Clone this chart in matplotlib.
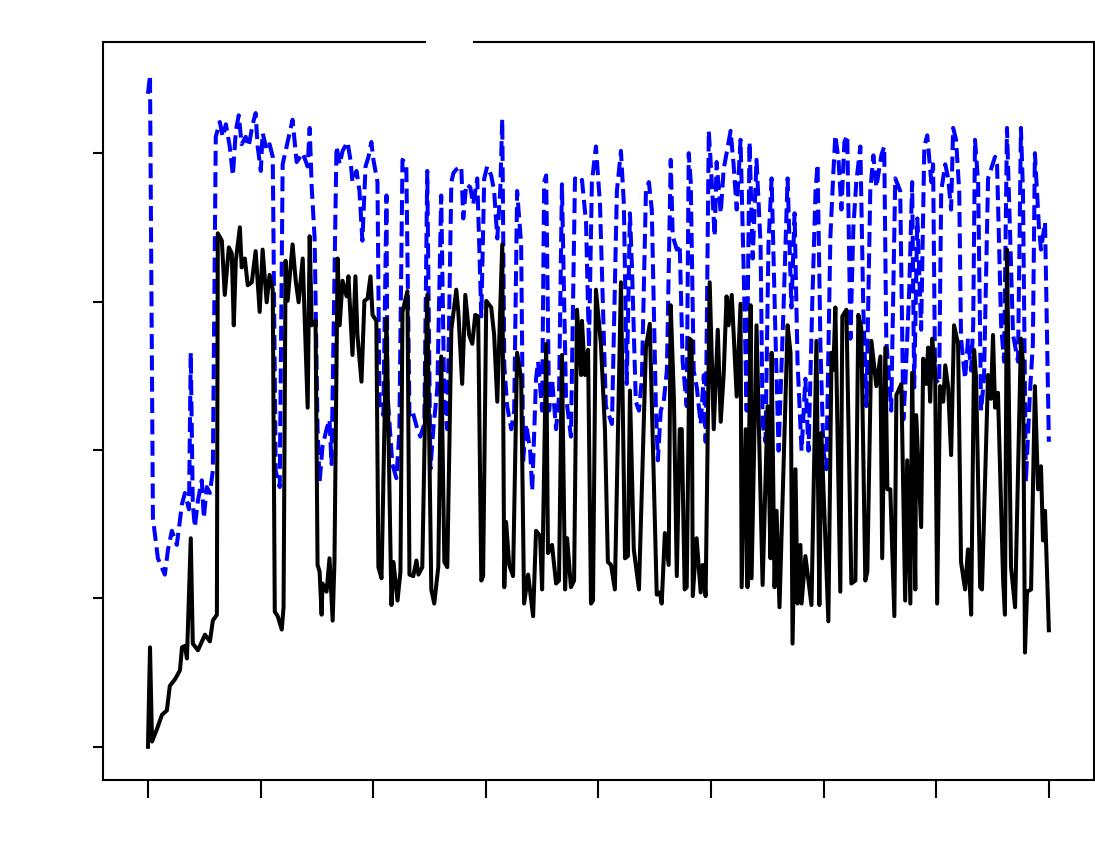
import matplotlib
matplotlib.use("Agg")
import matplotlib.pyplot as plt

# solid black series
black_x = [0, 0.9, 1.8, 4.0, 6.2, 8.4, 9.7, 12.0, 14.2, 15.1, 16.4, 17.3, 19.0, 19.9, 22.2, 25.3, 27.5, 28.8, 30.6,
           31.0, 32.8, 34.1, 35.9, 37.2, 38.1, 39.0, 40.8, 41.6, 43.0, 44.3, 46.1, 47.8, 49.6, 50.9, 52.7, 54.0, 55.4,
           56.3, 57.6, 59.4, 60.2, 61.1, 62.0, 64.2, 65.6, 66.9, 68.7, 70.9, 71.8, 72.7, 74.4, 75.3, 76.2, 77.1, 77.5,
           79.3, 80.6, 82.0, 82.8, 84.2, 85.1, 86.4, 88.2, 89.0, 90.8, 92.1, 93.0, 94.8, 96.1, 97.5, 98.8, 99.7, 101.4,
           102.3, 103.7, 105.9, 108.1, 109.0, 110.8, 112.1, 113.0, 115.2, 116.1, 117.8, 119.2, 120.1, 121.8, 124.0,
           125.8, 127.1, 128.9, 130.2, 131.6, 132.9, 134.7, 136.9, 137.8, 139.5, 140.9, 142.6, 144.0, 145.3, 146.6,
           148.0, 148.8, 150.2, 152.4, 153.7, 155.1, 157.3, 158.2, 159.0, 160.4, 162.1, 163.9, 165.7, 167.0, 168.8,
           171.0, 172.3, 174.1, 175.0, 176.8, 177.6, 179.4, 181.2, 182.5, 183.8, 185.2, 186.1, 187.8, 189.2, 190.5,
           192.3, 192.7, 194.0, 195.4, 196.7, 197.6, 198.9, 201.1, 202.9, 204.2, 205.6, 207.3, 210.0, 211.8, 213.1,
           214.0, 215.7, 218.0, 221.1, 222.8, 225.9, 227.3, 228.1, 229.5, 231.2, 232.1, 233.5, 234.8, 236.1, 237.0,
           238.3, 239.2, 240.5, 241.4, 241.9, 243.6, 245.4, 246.3, 247.6, 249.4, 251.2, 253.0, 254.3, 255.6, 256.9,
           257.8, 259.2, 261.4, 263.1, 263.6, 265.4, 266.2, 267.6, 268.0, 270.2, 272.9, 275.1, 276.4, 276.9, 278.2,
           279.1, 280.4, 284.0, 285.3, 286.2, 287.5, 288.4, 289.7, 290.2, 291.9, 294.6, 296.8, 298.1, 299.0, 302.1,
           303.5, 304.3, 305.2, 307.4, 308.3, 310.1, 312.3, 314.1, 315.4, 316.7, 318.5, 319.4, 321.2, 323.4, 325.2,
           326.0, 327.4, 328.3, 329.6, 331.4, 332.3, 334.5, 336.2, 337.1, 338.5, 339.3, 340.7, 341.1, 343.3, 344.2,
           345.5, 346.4, 347.3, 348.2, 349.5, 350.4, 351.7, 353.1, 354.0, 355.3, 356.6, 357.9, 359.7, 361.0, 362.8,
           364.1, 365.5, 366.8, 367.7, 369.5, 370.3, 373.0, 374.3, 375.2, 376.1, 377.4, 379.7, 380.5, 381.4, 383.2,
           385.0, 387.6, 388.5, 389.4, 390.3, 392.1, 393.8, 395.2, 396.5, 397.4, 398.3, 400.0]
black_y = [0, 13.4, 0.7, 2.4, 4.3, 4.9, 8.2, 9.1, 10.3, 13.4, 13.6, 11.9, 28.1, 13.9, 13.0, 15.1, 14.2, 17.0, 17.8,
           69.2, 68.2, 60.9, 67.3, 66.5, 56.8, 65.5, 70.0, 64.6, 65.8, 62.2, 62.6, 66.8, 58.6, 67.0, 59.9, 63.6, 61.6,
           18.2, 17.6, 15.8, 18.8, 65.5, 60.1, 67.7, 62.8, 59.9, 65.8, 45.7, 68.8, 56.8, 57.4, 24.5, 23.6, 17.8, 22.0,
           20.9, 25.4, 17.0, 24.9, 65.8, 56.8, 62.8, 60.7, 63.4, 52.8, 63.4, 55.5, 49.2, 60.1, 60.4, 63.4, 58.2, 57.4,
           24.2, 22.7, 57.7, 19.1, 24.9, 19.7, 23.6, 58.6, 61.4, 23.2, 23.0, 25.1, 23.2, 24.2, 60.9,
           21.2, 19.3, 24.2, 52.6, 24.9, 24.2, 56.2, 61.6, 58.6, 48.9, 60.9, 55.5, 54.3, 58.2, 58.0,
           22.4, 23.0, 60.1, 59.2, 55.5, 46.5, 67.7, 21.5, 30.3, 24.5, 23.0, 53.1, 49.6, 19.3, 23.2,
           17.6, 29.1, 28.4, 21.2, 54.3, 26.1, 27.2, 22.0, 22.4, 52.8, 21.2, 28.1, 21.5, 22.4, 58.9,
           50.1, 57.4, 50.1, 53.5, 19.3, 19.7, 61.6, 54.3, 42.8, 24.9, 24.5, 21.2, 62.6, 25.4, 25.7,
           48.0, 26.6, 21.2, 53.8, 57.0, 20.5, 20.8, 19.3, 28.8, 24.5, 59.5, 47.2, 23.0, 42.8, 42.8,
           21.2, 21.5, 55.0, 54.7, 20.3, 28.1, 20.8, 24.5, 20.3, 62.6, 42.8, 56.2, 43.8, 50.1, 60.7,
           56.8, 60.9, 47.2, 59.7, 21.5, 42.8, 21.5, 59.5, 22.7, 56.8, 21.8, 45.9, 25.4, 53.1, 21.5,
           31.8, 18.8, 56.8, 53.1, 13.9, 37.4, 19.3, 27.2, 19.3, 25.7, 19.1, 54.7, 19.1, 42.3, 16.9,
           53.1, 50.8, 59.2, 20.9, 58.0, 58.9, 22.0, 22.4, 58.2, 56.5, 22.4, 23.6, 54.7, 48.6, 52.6,
           25.4, 53.8, 34.7, 34.7, 17.6, 47.4, 48.9, 19.7, 38.6, 19.3, 50.4, 21.2, 44.7, 29.6, 52.3,
           48.9, 53.8, 46.5, 55.0, 50.8, 19.3, 48.6, 46.5, 51.4, 48.4, 39.3, 56.8, 54.3, 24.9, 21.2,
           26.6, 17.8, 53.5, 49.6, 21.5, 21.2, 50.1, 46.9, 55.5, 45.7, 47.7, 22.4, 17.8, 67.0, 24.2,
           18.8, 55.0, 51.9, 12.7, 20.9, 21.2, 48.6, 34.7, 37.8, 27.8, 31.8, 15.7]

# dashed blue series
blue_x = [0, 0.9, 2.2, 4.4, 7.5, 8.9, 10.6, 12.8, 15.1, 16.4, 18.2, 19.0, 19.9, 20.8, 22.2, 23.9, 24.8, 26.1, 27.5,
          28.8, 30.1, 31.9, 33.2, 34.6, 36.3, 37.7, 39.0, 40.3, 41.6, 43.4, 44.7, 46.5, 47.8, 48.7, 50.1, 50.9, 52.7,
          54.0, 55.4, 56.7, 58.5, 59.8, 62.0, 64.2, 66.0, 68.7, 70.9, 71.8, 72.7, 74.0, 75.3, 76.2, 77.5, 79.3, 80.6,
          81.5, 83.7, 85.1, 86.4, 88.6, 89.9, 90.8, 92.6, 93.9, 95.2, 96.6, 97.9, 99.2, 100.1, 101.9, 102.8, 104.5,
          105.9, 106.3, 108.5, 110.3, 111.6, 113.0, 114.7, 116.1, 117.4, 119.6, 120.9, 122.7, 124.0, 125.4, 126.7,
          128.5, 130.2, 131.6, 132.9, 134.7, 135.6, 136.9, 139.1, 140.0, 141.3, 143.1, 144.4, 146.2, 148.0, 149.3,
          150.6, 152.4, 153.7, 155.1, 156.4, 157.3, 158.2, 159.5, 161.3, 162.6, 163.9, 165.7, 166.6, 167.9, 169.7,
          170.6, 172.3, 173.2, 175.0, 175.9, 176.8, 178.1, 179.4, 181.2, 182.5, 183.8, 185.6, 187.8, 189.6, 191.8,
          192.7, 194.5, 195.8, 197.1, 198.9, 200.7, 203.3, 206.0, 208.2, 210.0, 211.3, 212.6, 214.0, 214.9, 216.6,
          218.0, 219.3, 221.1, 222.4, 223.7, 225.5, 226.4, 227.7, 229.0, 230.4, 232.1, 233.0, 234.8, 236.1, 237.4,
          239.2, 240.1, 241.0, 242.3, 243.7, 245.4, 246.8, 247.6, 249.0, 249.9, 251.6, 252.5, 254.3, 255.6, 256.9,
          258.7, 260.0, 261.4, 263.1, 264.5, 265.8, 267.1, 268.5, 270.2, 272.0, 272.9, 274.2, 275.5, 276.9, 278.6,
          280.0, 282.2, 284.0, 285.7, 287.1, 288.4, 290.2, 291.9, 293.3, 295.0, 296.4, 297.3, 298.6, 299.9, 301.2,
          303.0, 304.3, 305.2, 306.6, 307.9, 309.2, 310.5, 311.9, 313.2, 314.5, 316.3, 317.6, 319.0, 320.7, 322.1,
          323.4, 325.6, 326.9, 327.8, 330.0, 331.8, 334.0, 335.4, 336.2, 338.0, 339.3, 340.2, 341.6, 343.3, 344.7,
          346.0, 347.8, 348.6, 349.5, 351.3, 352.2, 354.0, 355.3, 356.6, 357.5, 358.8, 360.2, 361.0, 362.8, 364.1,
          365.5, 366.4, 367.2, 368.6, 369.9, 371.2, 373.0, 374.3, 376.1, 377.0, 378.8, 380.1, 381.4, 382.8, 384.1,
          386.3, 387.6, 388.5, 389.8, 391.6, 392.9, 393.8, 395.6, 396.5, 398.3, 400.0]
blue_y = [88.0, 90.5, 30.8, 25.4, 23.2, 26.6, 29.1, 27.2, 32.7, 34.2, 32.0, 53.1, 32.7, 29.6, 33.2, 35.9, 30.8, 35.0, 34.2,
          37.2, 82.2, 84.2, 82.2, 83.9, 80.9, 77.0, 83.0, 85.1, 81.2, 82.2, 80.9, 83.9, 85.4, 80.9, 77.6, 82.7, 80.5,
          81.2, 79.5, 37.2, 35.0, 78.5, 81.5, 84.5, 78.8, 80.0, 78.2, 83.4, 75.4, 68.5, 42.8, 35.7, 40.5, 42.8, 44.1,
          38.1, 80.9, 78.5, 80.3, 81.5, 79.1, 76.1, 77.6, 74.9, 68.2, 78.2, 79.5, 81.5, 79.1, 76.1, 45.9, 44.7,
          74.3, 47.7, 38.1, 36.2, 42.3, 79.1, 78.5, 44.7, 45.3, 42.8, 41.8, 43.5, 77.6, 37.4, 42.8,
          48.4, 74.3, 45.9, 42.8, 76.1, 77.3, 77.8, 78.2, 71.2, 75.8, 75.4, 73.1, 76.6, 58.0, 76.6,
          78.2, 77.0, 74.9, 68.5, 74.9, 84.6, 51.4, 45.9, 42.8, 45.3, 74.9, 67.7, 38.6, 43.5, 39.9,
          34.5, 49.6, 51.9, 45.3, 76.1, 77.0, 45.3, 49.6, 42.8, 47.2, 75.8, 47.2, 41.8, 76.6, 76.1,
          76.4, 70.7, 53.8, 76.1, 80.9, 73.1, 45.9, 43.5, 74.9, 80.3, 73.1, 48.9, 71.9, 64.6, 46.5,
          45.3, 49.6, 74.9, 76.1, 72.4, 45.9, 38.6, 45.3, 46.5, 50.7, 79.1, 68.8, 67.0, 67.7, 51.9,
          45.9, 80.0, 76.1, 50.7, 48.4, 43.5, 50.1, 41.1, 83.0, 78.5, 68.8, 78.8, 71.9, 77.8, 80.0,
          83.0, 78.5, 72.4, 81.8, 64.1, 45.3, 81.5, 65.8, 79.1, 67.7, 43.5, 41.1, 67.7, 76.6, 55.5,
          39.9, 59.2, 76.6, 59.2, 71.9, 51.9, 39.9, 49.6, 39.9, 60.4, 74.9, 78.5, 53.8, 39.9, 37.4,
          68.8, 77.3, 82.4, 79.1, 72.4, 81.5, 82.4, 55.0, 70.0, 76.1, 80.9, 59.2, 45.9, 74.9, 79.7,
          75.4, 79.7, 80.9, 55.0, 45.3, 76.6, 74.9, 44.1, 48.4, 61.6, 76.1, 48.4, 71.2, 56.2, 80.9,
          82.4, 76.1, 78.5, 49.6, 48.9, 74.9, 78.5, 76.6, 72.4, 83.4, 81.8, 74.9, 55.0, 49.6, 55.0,
          50.7, 56.8, 81.8, 76.1, 45.3, 49.6, 76.6, 77.8, 79.5, 78.5, 56.8, 51.9, 83.4, 68.8, 55.5,
          51.9, 83.4, 74.9, 35.7, 47.7, 54.3, 80.0, 70.0, 67.0, 70.7, 41.1]

x_ticks = [0, 50, 100, 150, 200, 250, 300, 350, 400]
y_ticks = [0, 20, 40, 60, 80]

fig = plt.figure(figsize=(10.95, 8.68), dpi=100)
ax = fig.add_axes([0.094, 0.101, 0.905, 0.851])

ax.plot(blue_x, blue_y, linestyle='--', color='blue', linewidth=2.9)
ax.plot(black_x, black_y, color='black', linewidth=2.9)

ax.set_xticks(x_ticks)
ax.set_yticks(y_ticks)
ax.tick_params(axis='x', length=13, width=1.5, colors='black', labelcolor='white', labelsize=14, pad=6)
ax.tick_params(axis='y', length=7, width=1.5, colors='black', labelcolor='white', labelsize=14)
for sp in ax.spines.values():
    sp.set_linewidth(1.5)

ax.set_xlabel('x', color='white', fontsize=14)
ax.set_ylabel('y', color='white', fontsize=14)
ax.text(0.35, 1.0, 'Title', transform=ax.transAxes, ha='center', va='center', color='white',
        fontsize=14, bbox=dict(facecolor='white', edgecolor='none', pad=2))

fig.savefig('out.png', dpi=100, facecolor='white')
